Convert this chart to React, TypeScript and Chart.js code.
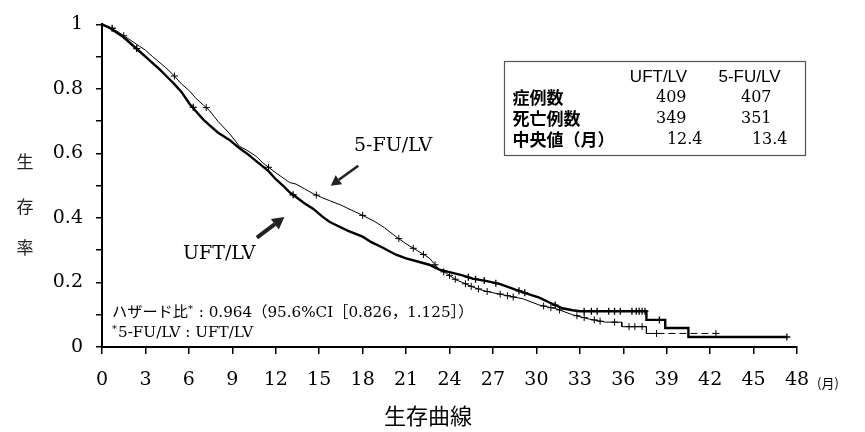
import React, { useEffect, useRef } from 'react';
import { Chart, registerables } from 'chart.js';

Chart.register(...registerables);

// ---- Data ----
const uftTime = [0, 0.5, 1, 1.5, 2, 2.6, 3, 3.5, 4, 4.66, 5, 5.5, 6.04, 6.5, 7, 7.42, 8, 8.8, 9.5, 10, 10.65, 11.1, 11.5, 12, 12.5, 13, 13.4, 14, 14.6, 15.2, 15.7, 16.3, 17, 18, 18.6, 19.3, 20.3, 21, 21.8, 22.6, 23.3, 24, 24.9, 25.6, 26.5, 27.5, 28.6, 29.4, 30.2, 30.9, 31.8, 32.5, 33, 37.6, 37.6, 38.9, 38.9, 40.5, 40.5, 47.3];
const uftSurv = [1, 0.99, 0.975, 0.96, 0.94, 0.916, 0.9, 0.88, 0.86, 0.83, 0.815, 0.79, 0.754, 0.73, 0.705, 0.688, 0.665, 0.642, 0.616, 0.6, 0.576, 0.56, 0.545, 0.52, 0.5, 0.478, 0.465, 0.445, 0.428, 0.405, 0.388, 0.375, 0.36, 0.342, 0.325, 0.31, 0.286, 0.275, 0.265, 0.255, 0.24, 0.232, 0.222, 0.212, 0.205, 0.195, 0.177, 0.165, 0.153, 0.138, 0.12, 0.114, 0.111, 0.111, 0.084, 0.084, 0.059, 0.059, 0.031, 0.031];

const fuTime = [0, 0.5, 1, 1.5, 2, 2.6, 3, 3.5, 4.4, 5, 5.5, 6.04, 6.5, 7, 7.42, 8, 8.8, 9.5, 10, 10.65, 11.1, 12, 12.95, 13.4, 14, 14.6, 15.25, 15.7, 16.5, 17.2, 18, 18.8, 19.5, 20.3, 21, 21.8, 22.6, 23.3, 23.8, 24.5, 24.9, 25.6, 26.1, 26.8, 27.9, 29.1, 30.2, 31.4, 32.5, 33.7, 34.8, 35.9, 35.9, 37.6, 37.6, 42.4];
const fuSurv = [1, 0.99, 0.98, 0.965, 0.95, 0.932, 0.92, 0.9, 0.866, 0.84, 0.815, 0.794, 0.77, 0.75, 0.733, 0.7, 0.662, 0.622, 0.61, 0.591, 0.571, 0.54, 0.51, 0.505, 0.49, 0.475, 0.462, 0.454, 0.44, 0.425, 0.408, 0.39, 0.37, 0.342, 0.32, 0.298, 0.276, 0.24, 0.228, 0.207, 0.2, 0.186, 0.178, 0.17, 0.16, 0.149, 0.13, 0.118, 0.1, 0.086, 0.077, 0.077, 0.063, 0.063, 0.042, 0.042];

const uftCensorT = [0.7, 2.4, 6.3, 13.2, 25.3, 25.8, 26.4, 27.2, 28.8, 29.2, 31.3, 33.3, 33.8, 34.2, 35.0, 35.4, 35.8, 36.6, 36.9, 37.1, 37.3, 37.5, 38.5, 47.3];
const uftCensorS = [0.988, 0.925, 0.743, 0.472, 0.216, 0.21, 0.206, 0.198, 0.174, 0.168, 0.13, 0.111, 0.111, 0.111, 0.111, 0.111, 0.111, 0.111, 0.111, 0.111, 0.111, 0.111, 0.084, 0.031];

const fuCensorT = [1.5, 5, 7.2, 11.5, 14.8, 18, 20.5, 21.5, 22.2, 23.0, 23.6, 24.0, 24.4, 25.1, 25.5, 26.0, 26.6, 27.5, 28.0, 28.4, 30.5, 31.0, 31.6, 32.8, 33.3, 34.0, 34.4, 35.4, 36.4, 36.8, 37.3, 38.3, 42.4];
const fuCensorS = [0.965, 0.84, 0.742, 0.557, 0.471, 0.408, 0.336, 0.306, 0.287, 0.255, 0.233, 0.222, 0.21, 0.196, 0.188, 0.18, 0.172, 0.164, 0.159, 0.155, 0.127, 0.122, 0.115, 0.097, 0.091, 0.084, 0.08, 0.077, 0.063, 0.063, 0.063, 0.042, 0.042];

const yTickLabels = ['0', '0.2', '0.4', '0.6', '0.8', '1'];
const yTitleChars = ['生', '存', '率'];
const chartTitle = '生存曲線';
const xUnit = '(月)';

const tableHeader = ['UFT/LV', '5-FU/LV'];
const tableRows = ['症例数', '死亡例数', '中央値（月）'];
const tableUft = ['409', '349', '12.4'];
const tableFu = ['407', '351', '13.4'];

const SERIF = '"DejaVu Serif", "Noto Sans CJK JP", serif';
const CJK = '"Noto Sans CJK JP", sans-serif';
const SANS = '"Liberation Sans", Arial, sans-serif';

function drawArrow(ctx: CanvasRenderingContext2D, x1: number, y1: number, x2: number, y2: number, w: number, head: number) {
  const ang = Math.atan2(y2 - y1, x2 - x1);
  const bx = x2 - head * Math.cos(ang);
  const by = y2 - head * Math.sin(ang);
  ctx.save();
  ctx.strokeStyle = '#222';
  ctx.fillStyle = '#222';
  ctx.lineWidth = w;
  ctx.beginPath();
  ctx.moveTo(x1, y1);
  ctx.lineTo(bx, by);
  ctx.stroke();
  ctx.beginPath();
  ctx.moveTo(x2, y2);
  ctx.lineTo(bx + head * 0.55 * Math.sin(ang), by - head * 0.55 * Math.cos(ang));
  ctx.lineTo(bx - head * 0.55 * Math.sin(ang), by + head * 0.55 * Math.cos(ang));
  ctx.closePath();
  ctx.fill();
  ctx.restore();
}

const annotPlugin = {
  id: 'annot',
  afterDraw(chart: any) {
    const ctx: CanvasRenderingContext2D = chart.ctx;
    const xs = chart.scales.x;
    const ys = chart.scales.y;
    const px = (t: number) => xs.getPixelForValue(t);
    const py = (v: number) => ys.getPixelForValue(v);
    ctx.save();
    ctx.fillStyle = '#000';
    ctx.textBaseline = 'middle';

    // y-axis title (vertical characters)
    ctx.font = `17px ${CJK}`;
    ctx.textAlign = 'center';
    ctx.fillStyle = '#222';
    const yTitleY = [162, 207, 248];
    yTitleChars.forEach((c, i) => ctx.fillText(c, 25, yTitleY[i]));

    // x unit
    ctx.fillStyle = '#000';
    ctx.font = `13px ${CJK}`;
    ctx.fillText(xUnit, px(48) + 31, 383);

    // chart title
    ctx.font = `22px ${CJK}`;
    ctx.fillText(chartTitle, 428, 416);

    // arm labels + arrows (data coords)
    ctx.font = `19px ${SERIF}`;
    ctx.fillText('5-FU/LV', px(20.1), py(0.622));
    ctx.fillText('UFT/LV', px(8.1), py(0.287));
    drawArrow(ctx, px(17.7), py(0.562), px(15.8), py(0.5), 2.6, 10);
    drawArrow(ctx, px(10.7), py(0.339), px(12.6), py(0.403), 4, 12);

    // hazard ratio annotation
    ctx.textAlign = 'left';
    let x = 112;
    const f = 15.2;
    ctx.font = `${f}px ${SERIF}`;
    const s1 = 'ハザード比';
    ctx.fillText(s1, x, 313);
    x += ctx.measureText(s1).width;
    ctx.font = `10px ${SERIF}`;
    ctx.fillText('*', x, 309);
    x += ctx.measureText('*').width + 1;
    ctx.font = `${f}px ${SERIF}`;
    ctx.fillText(' : 0.964（95.6%CI［0.826，1.125］）', x, 313);

    x = 112;
    ctx.font = `10px ${SERIF}`;
    ctx.fillText('*', x, 329);
    x += ctx.measureText('*').width + 1;
    ctx.font = `${f}px ${SERIF}`;
    ctx.fillText('5-FU/LV : UFT/LV', x, 333);

    // table box
    const bx = 504.5;
    const by = 61.5;
    const bw = 301;
    const bh = 94;
    ctx.fillStyle = '#fff';
    ctx.fillRect(bx, by, bw, bh);
    ctx.strokeStyle = '#555';
    ctx.lineWidth = 1.2;
    ctx.strokeRect(bx, by, bw, bh);
    ctx.fillStyle = '#000';
    const rowY = [98, 118.5, 139.5];
    ctx.textAlign = 'center';
    ctx.font = `17px ${SANS}`;
    ctx.fillText(tableHeader[0], bx + 154, 77);
    ctx.fillText(tableHeader[1], bx + 245, 77);
    ctx.textAlign = 'left';
    ctx.font = `bold 17px ${CJK}`;
    tableRows.forEach((r, i) => ctx.fillText(r, bx + 8, rowY[i]));
    ctx.font = `16px ${SERIF}`;
    ctx.textAlign = 'right';
    const uftRight = [bx + 182, bx + 182, bx + 198];
    const fuRight = [bx + 267, bx + 267, bx + 283];
    tableUft.forEach((v, i) => ctx.fillText(v, uftRight[i], rowY[i]));
    tableFu.forEach((v, i) => ctx.fillText(v, fuRight[i], rowY[i]));
    ctx.restore();
  },
};

export default function App() {
  const ref = useRef<HTMLCanvasElement | null>(null);
  useEffect(() => {
    if (!ref.current) return;
    const toXY = (t: number[], s: number[]) => t.map((v, i) => ({ x: v, y: s[i] }));
    const tickFont = { family: SERIF, size: 19 };
    const chart = new Chart(ref.current, {
      type: 'line',
      data: {
        datasets: [
          {
            label: 'UFT/LV',
            data: toXY(uftTime, uftSurv),
            borderColor: '#000',
            borderWidth: 2.4,
            pointRadius: 0,
            tension: 0,
            fill: false,
            clip: false,
          } as any,
          {
            label: '5-FU/LV',
            data: toXY(fuTime, fuSurv),
            borderColor: '#000',
            borderWidth: 1,
            pointRadius: 0,
            tension: 0,
            fill: false,
            clip: false,
            segment: {
              borderDash: (c: any) => (c.p0.parsed.y < 0.05 ? [7, 4] : undefined),
            },
          } as any,
          {
            type: 'scatter',
            label: 'UFT censor',
            data: toXY(uftCensorT, uftCensorS),
            pointStyle: 'cross',
            pointRadius: 3.5,
            borderColor: '#000',
            backgroundColor: '#000',
            borderWidth: 1.3,
            showLine: false,
            clip: false,
          } as any,
          {
            type: 'scatter',
            label: '5-FU censor',
            data: toXY(fuCensorT, fuCensorS),
            pointStyle: 'cross',
            pointRadius: 3.5,
            borderColor: '#000',
            backgroundColor: '#000',
            borderWidth: 1,
            showLine: false,
            clip: false,
          } as any,
        ],
      },
      options: {
        animation: false,
        responsive: false,
        maintainAspectRatio: false,
        layout: { padding: { top: 19, right: 68, left: 0, bottom: 0 } },
        plugins: {
          legend: { display: false },
          tooltip: { enabled: false },
          title: { display: false },
        },
        scales: {
          x: {
            type: 'linear',
            min: 0,
            max: 48,
            ticks: {
              stepSize: 3,
              font: tickFont,
              color: '#000',
              padding: 15,
              maxRotation: 0,
              autoSkip: false,
            },
            grid: { drawOnChartArea: false, drawTicks: true, tickLength: 7, color: '#000', lineWidth: 1.5 },
            border: { color: '#000', width: 2 },
            afterFit: (s: any) => {
              s.height = 85;
            },
          },
          y: {
            type: 'linear',
            min: 0,
            max: 1,
            ticks: {
              stepSize: 0.1,
              font: tickFont,
              color: '#000',
              padding: 13,
              autoSkip: false,
              callback: (v: any) => {
                const r = Math.round(Number(v) * 10);
                return r % 2 === 0 ? yTickLabels[r / 2] : '';
              },
            },
            grid: { drawOnChartArea: false, drawTicks: true, tickLength: 6, color: '#000', lineWidth: 1.5 },
            border: { color: '#000', width: 2 },
            afterFit: (s: any) => {
              s.width = 102;
            },
          },
        },
      } as any,
      plugins: [annotPlugin],
    });
    return () => chart.destroy();
  }, []);
  return (
    <div style={{ position: 'fixed', left: 0, top: 0, width: 865, height: 432, background: '#fff' }}>
      <canvas ref={ref} width={865} height={432} style={{ display: 'block' }} />
    </div>
  );
}
